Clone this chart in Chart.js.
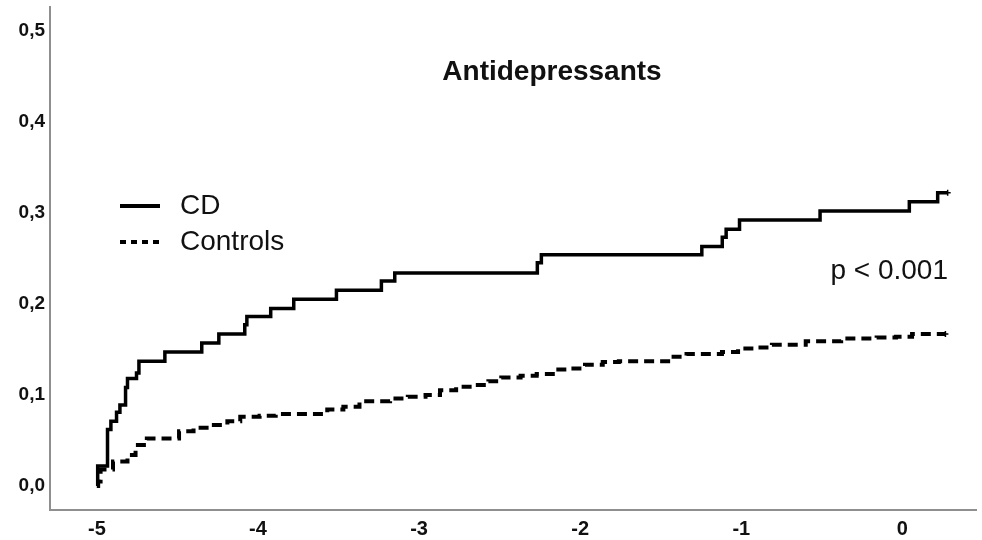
<!DOCTYPE html>
<html><head><meta charset="utf-8">
<script src="https://cdn.jsdelivr.net/npm/chart.js@4/dist/chart.umd.min.js"></script>
<style>html,body{margin:0;padding:0;background:#fff}#wrap{width:982px;height:540px}</style>
</head><body><div id="wrap"><canvas id="c" width="982" height="540"></canvas></div>
<script>
// Cumulative incidence of antidepressant use, years relative to diagnosis
const cdYears = [-5, -4.995, -4.934, -4.913, -4.878, -4.857, -4.822, -4.810, -4.754, -4.739,
  -4.578, -4.349, -4.243, -4.082, -4.069, -3.921, -3.778, -3.513, -3.234, -3.151,
  -2.266, -2.241, -1.245, -1.118, -1.094, -1.011, -0.511, 0.043, 0.219, 0.281];
const cdIncidence = [0, 0.022, 0.062, 0.071, 0.081, 0.089, 0.108, 0.118, 0.124, 0.137,
  0.147, 0.157, 0.167, 0.177, 0.186, 0.195, 0.205, 0.215, 0.225, 0.234,
  0.245, 0.254, 0.263, 0.273, 0.282, 0.292, 0.302, 0.312, 0.322, 0.322];

const ctrlYears = [-5, -4.992, -4.977, -4.90, -4.81, -4.76, -4.69, -4.49, -4.40, -4.30,
  -4.19, -4.11, -3.99, -3.89, -3.57, -3.47, -3.37, -3.18, -3.07, -2.96,
  -2.87, -2.77, -2.66, -2.57, -2.49, -2.37, -2.27, -2.17, -2.07, -1.97,
  -1.86, -1.76, -1.44, -1.34, -1.12, -1.02, -0.91, -0.81, -0.60, -0.38,
  -0.16, -0.04, 0.06, 0.267];
const ctrlIncidence = [0, 0.005, 0.018, 0.027, 0.034, 0.045, 0.052, 0.060, 0.064, 0.067,
  0.071, 0.076, 0.077, 0.079, 0.084, 0.087, 0.093, 0.096, 0.098, 0.100,
  0.105, 0.109, 0.111, 0.115, 0.119, 0.121, 0.123, 0.128, 0.129, 0.133,
  0.136, 0.137, 0.142, 0.145, 0.147, 0.151, 0.152, 0.155, 0.159, 0.162,
  0.163, 0.164, 0.167, 0.167];

const xTicks = [-5, -4, -3, -2, -1, 0];
const yTicks = [0, 0.1, 0.2, 0.3, 0.4, 0.5];
const seriesNames = ['CD', 'Controls'];
const chartTitle = 'Antidepressants';
const pValueText = 'p < 0.001';

const toPoints = (xs, ys) => xs.map((x, i) => ({x: x, y: ys[i]}));
const lastOnly = ctx => ctx.dataIndex === ctx.dataset.data.length - 1 ? 3 : 0;
const FONT = '"Liberation Sans", Arial, sans-serif';

// Title, p-value and the in-plot legend
const overlay = {
  id: 'overlay',
  afterDatasetsDraw(chart) {
    const ctx = chart.ctx;
    ctx.save();
    ctx.fillStyle = '#111';
    ctx.textBaseline = 'middle';

    ctx.font = 'bold 28px ' + FONT;
    ctx.textAlign = 'center';
    ctx.fillText(chartTitle, 552, 72);

    ctx.font = '28px ' + FONT;
    ctx.textAlign = 'right';
    ctx.fillText(pValueText, 948, 271);

    ctx.textAlign = 'left';
    ctx.font = '28px ' + FONT;
    ctx.strokeStyle = '#000';
    ctx.lineCap = 'butt';

    ctx.lineWidth = 4;
    ctx.setLineDash([]);
    ctx.beginPath(); ctx.moveTo(120, 206); ctx.lineTo(160, 206); ctx.stroke();
    ctx.fillText(seriesNames[0], 180, 206);

    ctx.setLineDash([6, 5]);
    ctx.beginPath(); ctx.moveTo(120, 242); ctx.lineTo(160, 242); ctx.stroke();
    ctx.setLineDash([]);
    ctx.fillText(seriesNames[1], 180, 242);
    ctx.restore();
  }
};

new Chart(document.getElementById('c'), {
  type: 'line',
  data: {
    datasets: [
      {
        label: seriesNames[0],
        data: toPoints(cdYears, cdIncidence),
        borderColor: '#000', backgroundColor: '#000',
        borderWidth: 3.5, stepped: 'before',
        pointStyle: 'cross', pointRadius: lastOnly, pointBorderWidth: 1.5,
        pointBorderColor: '#000'
      },
      {
        label: seriesNames[1],
        data: toPoints(ctrlYears, ctrlIncidence),
        borderColor: '#000', backgroundColor: '#000',
        borderWidth: 4, borderDash: [10, 6], borderCapStyle: 'butt', stepped: 'before',
        pointStyle: 'cross', pointRadius: lastOnly, pointBorderWidth: 1.5,
        pointBorderColor: '#000'
      }
    ]
  },
  options: {
    responsive: false, animation: false, devicePixelRatio: 1,
    layout: {padding: {top: 7, right: 0, left: 0, bottom: 0}},
    plugins: {legend: {display: false}, tooltip: {enabled: false}},
    scales: {
      x: {
        type: 'linear', min: -5.291, max: 0.46,
        grid: {display: false, drawTicks: false},
        border: {display: true, color: '#8f8f8f', width: 2},
        afterBuildTicks: s => { s.ticks = xTicks.map(v => ({value: v})); },
        afterFit: s => { s.height = 30; s.paddingLeft = 0; s.paddingRight = 0; },
        ticks: {
          color: '#111', padding: 7,
          font: {family: FONT, size: 20, weight: 'bold'},
          callback: v => String(v)
        }
      },
      y: {
        type: 'linear', min: -0.0264, max: 0.526,
        grid: {display: false, drawTicks: false},
        border: {display: true, color: '#8f8f8f', width: 2},
        afterBuildTicks: s => { s.ticks = yTicks.map(v => ({value: v})); },
        afterFit: s => { s.width = 50; s.paddingTop = 0; s.paddingBottom = 0; },
        ticks: {
          color: '#111', padding: 5,
          font: {family: FONT, size: 19, weight: 'bold'},
          callback: v => v.toFixed(1).replace('.', ',')
        }
      }
    }
  },
  plugins: [overlay]
});
</script>
</body></html>
